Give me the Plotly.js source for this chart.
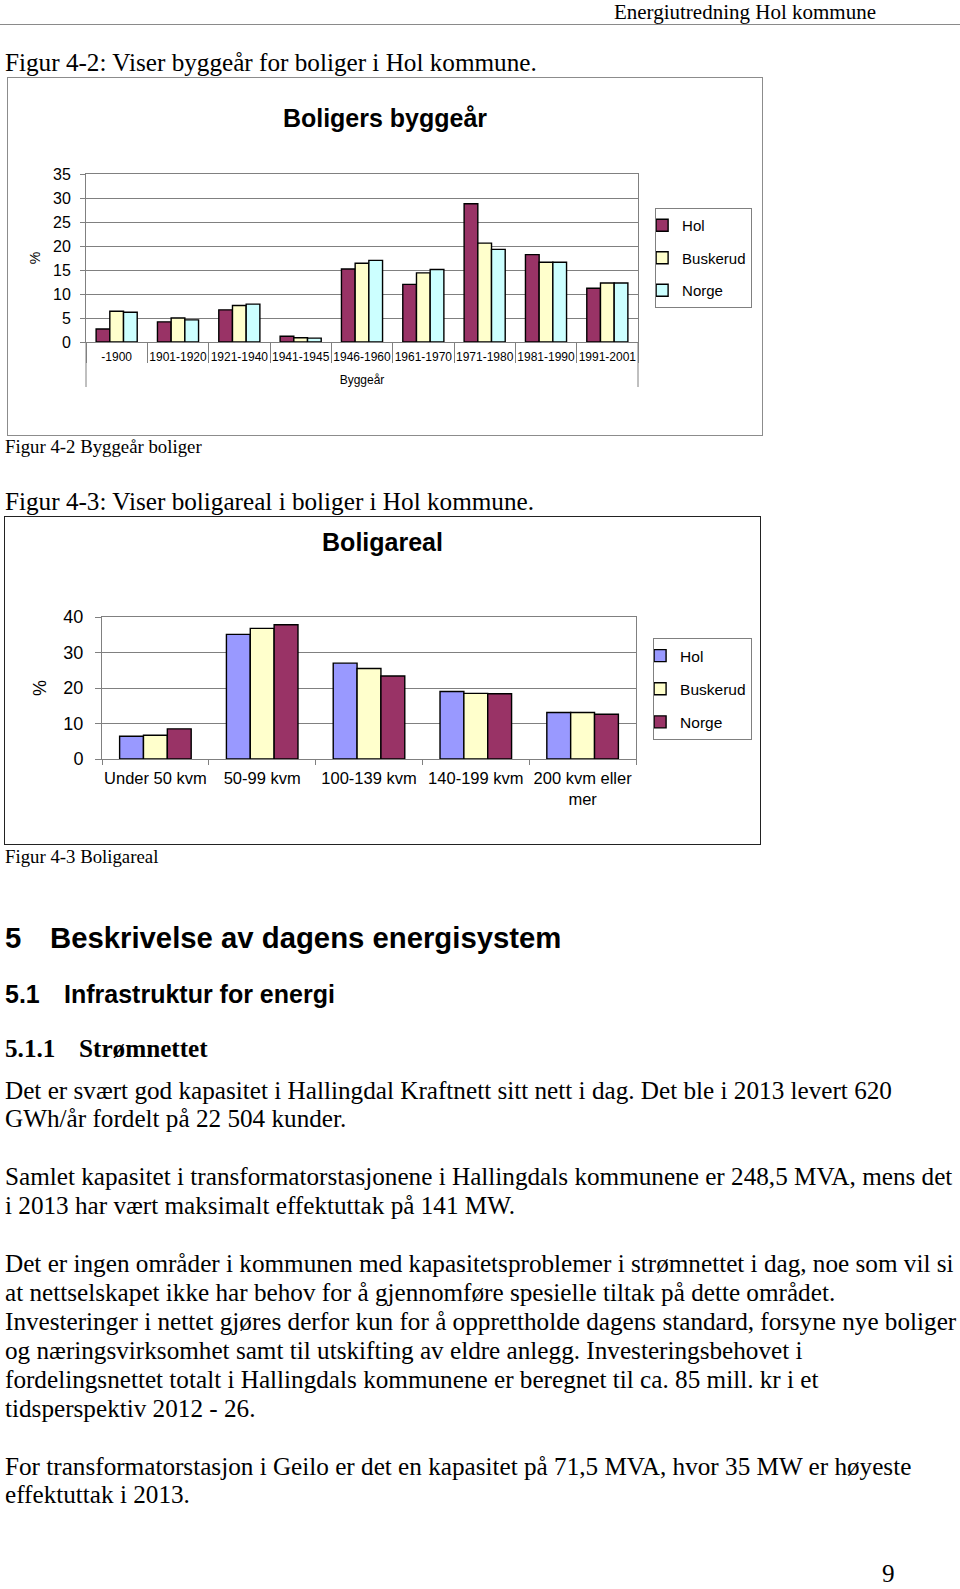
<!DOCTYPE html>
<html>
<head>
<meta charset="utf-8">
<script src="https://cdn.plot.ly/plotly-3.0.1.min.js"></script>
<style>
  html, body { margin:0; padding:0; background:#fff; }
  #page { position:relative; width:960px; height:1589px; overflow:hidden; background:#fff; }
  .t { position:absolute; white-space:nowrap; font-family:"Liberation Serif","Times New Roman",serif; color:#000; line-height:30px; }
  .body { font-size:25.2px; }
  .cap { font-size:18.8px; }
  .h { position:absolute; white-space:nowrap; font-family:"Liberation Sans",Arial,sans-serif; font-weight:bold; color:#000; line-height:40px; }
  .frame { position:absolute; box-sizing:border-box; }
  .plot { position:absolute; left:0; top:0; }
</style>
</head>
<body>
<div id="page">
  <div class="t" style="right:84px; top:2px; font-size:21px; line-height:20px;">Energiutredning Hol kommune</div>
  <div style="position:absolute; left:0; top:24px; width:960px; height:0; border-top:1.5px solid #8a8a8a;"></div>

  <div class="t body" style="left:5px; top:48px;">Figur 4-2: Viser byggeår for boliger i Hol kommune.</div>
  <div class="frame" style="left:7px; top:77px; width:756px; height:359px; background:#fff;"></div>
  <div class="frame" style="left:7px; top:77px; width:756px; height:359px;">
    <div id="chart1" class="plot"></div>
  </div>
  <div class="frame" style="left:7px; top:77px; width:756px; height:359px; border:1.5px solid #8c8c8c; pointer-events:none;"></div>
  <div class="t cap" style="left:5px; top:432px;">Figur 4-2 Byggeår boliger</div>

  <div class="t body" style="left:5px; top:487px;">Figur 4-3: Viser boligareal i boliger i Hol kommune.</div>
  <div class="frame" style="left:4px; top:516px; width:757px; height:329px; background:#fff;"></div>
  <div class="frame" style="left:4px; top:516px; width:757px; height:329px;">
    <div id="chart2" class="plot"></div>
  </div>
  <div class="frame" style="left:4px; top:516px; width:757px; height:329px; border:1.5px solid #222; pointer-events:none;"></div>
  <div class="t cap" style="left:5px; top:842px;">Figur 4-3 Boligareal</div>

  <div class="h" style="left:5px; top:918px; font-size:29.3px;">5</div>
  <div class="h" style="left:50px; top:918px; font-size:29.3px;">Beskrivelse av dagens energisystem</div>
  <div class="h" style="left:5px; top:974px; font-size:25px;">5.1</div>
  <div class="h" style="left:64px; top:974px; font-size:25px;">Infrastruktur for energi</div>
  <div class="t body" style="left:5px; top:1034px; font-weight:bold;">5.1.1</div>
  <div class="t body" style="left:79px; top:1034px; font-weight:bold;">Strømnettet</div>

  <div class="t body" style="left:5px; top:1076px;">Det er svært god kapasitet i Hallingdal Kraftnett sitt nett i dag. Det ble i 2013 levert 620</div>
  <div class="t body" style="left:5px; top:1104px;">GWh/år fordelt på 22 504 kunder.</div>

  <div class="t body" style="left:5px; top:1162px;">Samlet kapasitet i transformatorstasjonene i Hallingdals kommunene er 248,5 MVA, mens det</div>
  <div class="t body" style="left:5px; top:1191px;">i 2013 har vært maksimalt effektuttak på 141 MW.</div>

  <div class="t body" style="left:5px; top:1249px;">Det er ingen områder i kommunen med kapasitetsproblemer i strømnettet i dag, noe som vil si</div>
  <div class="t body" style="left:5px; top:1278px;">at nettselskapet ikke har behov for å gjennomføre spesielle tiltak på dette området.</div>
  <div class="t body" style="left:5px; top:1307px;">Investeringer i nettet gjøres derfor kun for å opprettholde dagens standard, forsyne nye boliger</div>
  <div class="t body" style="left:5px; top:1336px;">og næringsvirksomhet samt til utskifting av eldre anlegg. Investeringsbehovet i</div>
  <div class="t body" style="left:5px; top:1365px;">fordelingsnettet totalt i Hallingdals kommunene er beregnet til ca. 85 mill. kr i et</div>
  <div class="t body" style="left:5px; top:1394px;">tidsperspektiv 2012 - 26.</div>

  <div class="t body" style="left:5px; top:1452px;">For transformatorstasjon i Geilo er det en kapasitet på 71,5 MVA, hvor 35 MW er høyeste</div>
  <div class="t body" style="left:5px; top:1480px;">effektuttak i 2013.</div>

  <div class="t body" style="left:882px; top:1564px; line-height:20px;">9</div>
</div>

<script>
// ---------- Data: Figur 4-2 Boligers byggeår ----------
const yearCategories = ['-1900','1901-1920','1921-1940','1941-1945','1946-1960','1961-1970','1971-1980','1981-1990','1991-2001'];
const yearHol      = [2.7, 4.2, 6.7, 1.2, 15.2, 12.0, 28.8, 18.2, 11.2];
const yearBuskerud = [6.4, 5.0, 7.6, 0.9, 16.4, 14.4, 20.6, 16.6, 12.3];
const yearNorge    = [6.2, 4.6, 7.9, 0.8, 17.0, 15.1, 19.3, 16.6, 12.3];

// ---------- Data: Figur 4-3 Boligareal ----------
const areaCategories = ['Under 50 kvm','50-99 kvm','100-139 kvm','140-199 kvm','200 kvm eller<br>mer'];
const areaHol      = [6.4, 35.1, 27.0, 19.0, 13.1];
const areaBuskerud = [6.7, 36.8, 25.5, 18.5, 13.1];
const areaNorge    = [8.5, 37.8, 23.4, 18.4, 12.6];

const seriesNames = ['Hol','Buskerud','Norge'];

const SANS = 'Liberation Sans, Arial, sans-serif';
const GRID = '#808080';

function barTrace(name, x, y, color) {
  return {
    type:'bar', name:name, x:x, y:y, legendgroup:name,
    marker:{color:color, line:{color:'#000', width:1.4}},
    hoverinfo:'x+y+name'
  };
}

// ---------- Chart 1 ----------
const traces1 = [
  barTrace(seriesNames[0], yearCategories, yearHol, '#993366'),
  barTrace(seriesNames[1], yearCategories, yearBuskerud, '#FFFFCC'),
  barTrace(seriesNames[2], yearCategories, yearNorge, '#CCFFFF')
];
const layout1 = {
  width:756, height:359,
  margin:{l:79, r:125, t:97, b:94, pad:0, autoexpand:false},
  paper_bgcolor:'rgba(0,0,0,0)', plot_bgcolor:'#fff',
  font:{family:SANS, color:'#000'},
  title:{text:'Boligers byggeår', font:{family:SANS, size:25, weight:'bold', color:'#000'},
         x:0.5, xref:'container', y:1-41.5/359, yref:'container', yanchor:'middle'},
  barmode:'group', bargap:0.33, bargroupgap:0,
  showlegend:true,
  legend:{x:1.031, xanchor:'left', y:0.798, yanchor:'top', bgcolor:'#fff', bordercolor:GRID, borderwidth:1,
          font:{family:SANS, size:15, color:'#000'}, traceorder:'grouped', tracegroupgap:10, itemwidth:30,
          indentation:-14},
  xaxis:{type:'category', tickson:'boundaries', ticks:'outside', ticklen:20, tickcolor:GRID, tickwidth:1,
         showline:true, linecolor:GRID, linewidth:1, mirror:true, showgrid:false, tickangle:0,
         tickfont:{family:SANS, size:12, color:'#000'}, ticklabelstandoff:4,
         title:{text:'Byggeår', font:{family:SANS, size:12, color:'#000'}, standoff:12}, fixedrange:true},
  yaxis:{range:[0,35], dtick:5, tick0:0, ticks:'outside', ticklen:5, tickcolor:GRID,
         showline:true, linecolor:GRID, linewidth:1, mirror:true, showgrid:true, gridcolor:GRID, gridwidth:1,
         zeroline:false, tickfont:{family:SANS, size:16, color:'#000'}, ticklabelstandoff:6,
         title:{text:'%', font:{family:SANS, size:14, color:'#000'}, standoff:9}, fixedrange:true},
  shapes:[
    {type:'line', xref:'paper', yref:'paper', x0:0, x1:0, y0:0, y1:-0.268, line:{color:GRID, width:1}},
    {type:'line', xref:'paper', yref:'paper', x0:1, x1:1, y0:0, y1:-0.268, line:{color:GRID, width:1}}
  ]
};
Plotly.newPlot('chart1', traces1, layout1, {staticPlot:true, displayModeBar:false});

// ---------- Chart 2 ----------
const traces2 = [
  barTrace(seriesNames[0], areaCategories, areaHol, '#9999FF'),
  barTrace(seriesNames[1], areaCategories, areaBuskerud, '#FFFFCC'),
  barTrace(seriesNames[2], areaCategories, areaNorge, '#993366')
];
const layout2 = {
  width:757, height:329,
  margin:{l:98, r:125, t:101, b:86, pad:0, autoexpand:false},
  paper_bgcolor:'rgba(0,0,0,0)', plot_bgcolor:'#fff',
  font:{family:SANS, color:'#000'},
  title:{text:'Boligareal', font:{family:SANS, size:25, weight:'bold', color:'#000'},
         x:0.5, xref:'container', y:1-26/329, yref:'container', yanchor:'middle'},
  barmode:'group', bargap:0.33, bargroupgap:0,
  showlegend:true,
  legend:{x:1.032, xanchor:'left', y:0.852, yanchor:'top', bgcolor:'#fff', bordercolor:GRID, borderwidth:1,
          font:{family:SANS, size:15.5, color:'#000'}, traceorder:'grouped', tracegroupgap:10, itemwidth:30,
          indentation:-14},
  xaxis:{type:'category', tickson:'boundaries', ticks:'outside', ticklen:5, tickcolor:GRID, tickwidth:1,
         showline:true, linecolor:GRID, linewidth:1, mirror:true, showgrid:false, tickangle:0,
         tickfont:{family:SANS, size:16.5, color:'#000'}, ticklabelstandoff:4, fixedrange:true},
  yaxis:{range:[0,40], dtick:10, tick0:0, ticks:'outside', ticklen:6, tickcolor:GRID,
         showline:true, linecolor:GRID, linewidth:1, mirror:true, showgrid:true, gridcolor:GRID, gridwidth:1,
         zeroline:false, tickfont:{family:SANS, size:18, color:'#000'}, ticklabelstandoff:8,
         title:{text:'%', font:{family:SANS, size:18, color:'#000'}, standoff:12}, fixedrange:true}
};
Plotly.newPlot('chart2', traces2, layout2, {staticPlot:true, displayModeBar:false});
</script>
</body>
</html>
